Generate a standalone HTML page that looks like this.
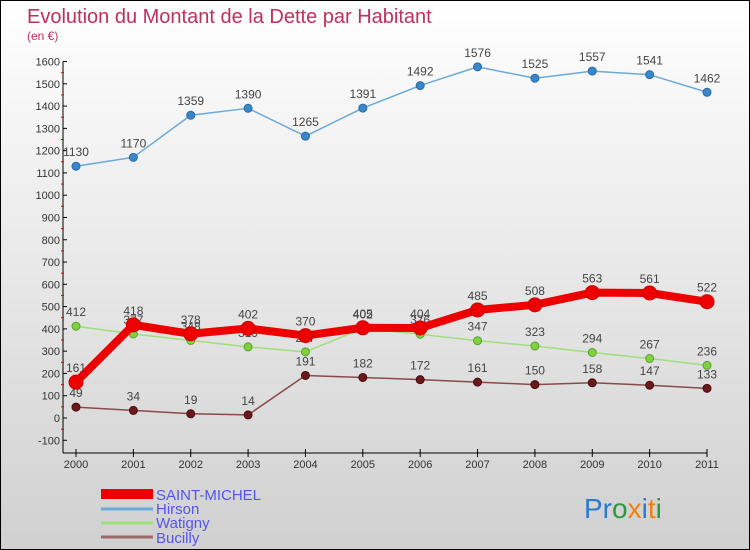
<!DOCTYPE html>
<html><head><meta charset="utf-8"><style>
body{margin:0;}
#c{position:relative;width:748px;height:548px;border:1px solid #000;background:linear-gradient(#ffffff,#d0d0d0);font-family:"Liberation Sans",sans-serif;overflow:hidden;}
</style></head><body>
<div id="c">
<svg id="s" width="748" height="548" style="position:absolute;left:0;top:0">
<text x="26" y="22" font-size="20" fill="#c0305a">Evolution du Montant de la Dette par Habitant</text>
<text x="26" y="39" font-size="12" fill="#c0305a">(en €)</text>
<g id="axes"></g><g id="series"></g>
<g>
<rect x="100" y="488" width="52" height="10" fill="#e00"/>
<text x="155" y="499" font-size="15" fill="#5555ee">SAINT-MICHEL</text>
<line x1="100" y1="508" x2="152" y2="508" stroke="#6aaad8" stroke-width="3"/>
<text x="155" y="513" font-size="15" fill="#5555ee">Hirson</text>
<line x1="100" y1="522" x2="152" y2="522" stroke="#9ee07a" stroke-width="3"/>
<text x="155" y="527" font-size="15" fill="#5555ee">Watigny</text>
<line x1="100" y1="536" x2="152" y2="536" stroke="#9a6a6a" stroke-width="3"/>
<text x="155" y="542" font-size="15" fill="#5555ee">Bucilly</text>
</g>
<g font-size="28" font-family="'Liberation Sans',sans-serif">
<text x="583" y="517"><tspan fill="#2a7ad0">Pr</tspan><tspan fill="#2a9a40">o</tspan><tspan fill="#f08010">x</tspan><tspan fill="#2a7ad0">i</tspan><tspan fill="#f08010">t</tspan><tspan fill="#2a9a40">i</tspan></text>
</g>
</svg>
</div>
<script>
const years=[2000,2001,2002,2003,2004,2005,2006,2007,2008,2009,2010,2011];
const saintMichel=[161,418,378,402,370,405,404,485,508,563,561,522];
const hirson=[1130,1170,1359,1390,1265,1391,1492,1576,1525,1557,1541,1462];
const watigny=[412,377,348,319,297,402,376,347,323,294,267,236];
const bucilly=[49,34,19,14,191,182,172,161,150,158,147,133];
const yTicks=[-100,0,100,200,300,400,500,600,700,800,900,1000,1100,1200,1300,1400,1500,1600];
const NS='http://www.w3.org/2000/svg';
const xS=i=>75+i*(706-75)/(years.length-1);
const yS=v=>417-v*0.2228;
function mk(t,a,p){const e=document.createElementNS(NS,t);for(const k in a)e.setAttribute(k,a[k]);p.appendChild(e);return e;}
const ax=document.getElementById('axes');
const yl=mk('line',{x1:62,y1:yS(1600),x2:62,y2:452,stroke:'#000'},ax);


const xl=mk('line',{x1:62,y1:452,x2:706,y2:452,stroke:'#000'},ax);


yTicks.forEach(v=>{
 mk('line',{x1:62,y1:yS(v),x2:66,y2:yS(v),stroke:'#000'},ax);
 if(v<1600) mk('line',{x1:60,y1:yS(v+50),x2:63,y2:yS(v+50),stroke:'#e00'},ax);
 const t=mk('text',{x:59,y:yS(v)+4,'text-anchor':'end','font-size':11,fill:'#333'},ax);
 t.textContent=v;
 
 
});
years.forEach((y,i)=>{
 mk('line',{x1:xS(i),y1:448,x2:xS(i),y2:456,stroke:'#000'},ax);
 const t=mk('text',{x:xS(i),y:467,'text-anchor':'middle','font-size':11,fill:'#333'},ax);
 t.textContent=y;
 
 
});
const sg=document.getElementById('series');
function series(name,vals,color,w,r,dot,stroke){
 const g=mk('g',{},sg);
 
 
 const pts=vals.map((v,i)=>xS(i)+','+yS(v)).join(' ');
 mk('polyline',{points:pts,fill:'none',stroke:color,'stroke-width':w,'stroke-linejoin':'round'},g);
 vals.forEach((v,i)=>{
  const c=mk('circle',{cx:xS(i),cy:yS(v),r:r,fill:dot,stroke:stroke,'stroke-width':1},g);
  
  
  const t=mk('text',{x:xS(i),y:yS(v)-10,'text-anchor':'middle','font-size':12,fill:'#444'},g);
  t.textContent=v;
  
  
 });
}
series('bucilly',bucilly,'#8a4a4a',1.5,4,'#6a1a1a','#4a0a0a');
series('watigny',watigny,'#9ee07a',1.5,4,'#80d040','#5aa030');
series('hirson',hirson,'#6aaad8',1.5,4,'#3a88c8','#2a68a8');
series('saint-michel',saintMichel,'#ee0000',8,7,'#ee0000','#cc0000');
</script>
</body></html>
